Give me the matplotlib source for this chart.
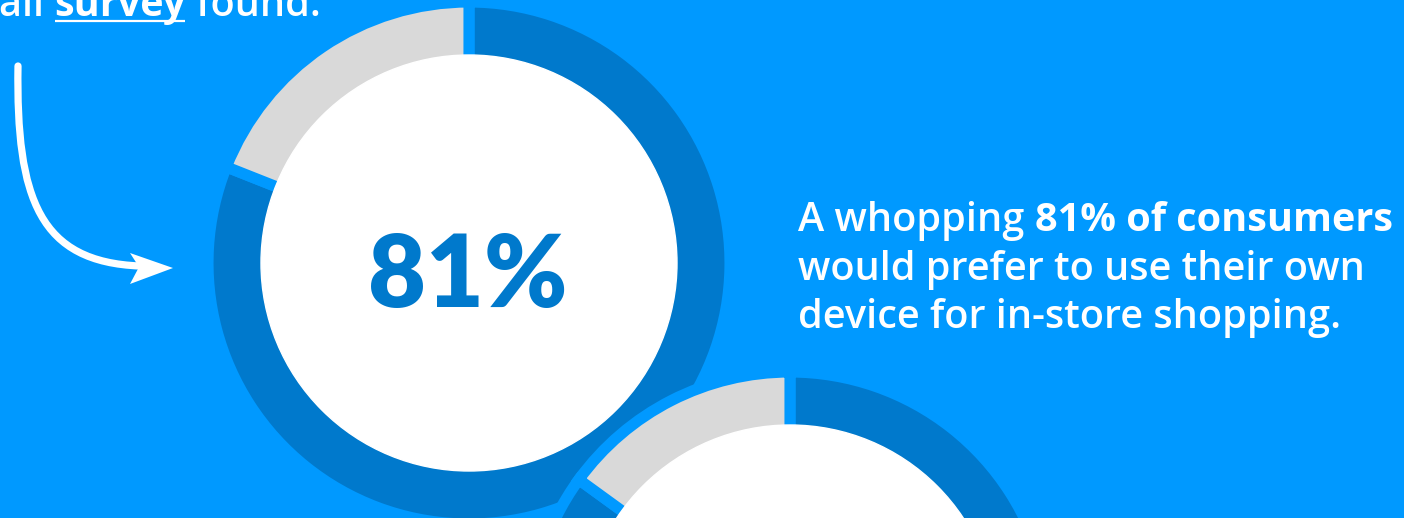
import matplotlib.pyplot as plt
from matplotlib.patches import Circle, Polygon, PathPatch
from matplotlib.path import Path

W, H = 1404, 518
BG = '#0099ff'
DARK = '#0079cc'
GRAY = '#d9d9d9'
FONT = 'Open Sans'

# shares of consumers in each ring (prefer own device / rest)
ring_labels = ['Own device', 'Other']
ring_main = [81, 19]
ring_next = [85, 15]
headline = '81%'

fig = plt.figure(figsize=(W / 100, H / 100), dpi=100)
fig.patch.set_facecolor(BG)
ax = fig.add_axes([0, 0, 1, 1])
ax.set_facecolor(BG)


def donut(values, cx, cy, z):
    # pixel coords, y measured from the top
    wedges, _ = ax.pie(values, labels=None, colors=[DARK, GRAY], startangle=90,
                       counterclock=False, center=(cx, H - cy), radius=261,
                       wedgeprops=dict(edgecolor=BG, linewidth=8))
    for w in wedges:
        w.set_zorder(z)
    ax.add_patch(Circle((cx, H - cy), 208, color='white', zorder=z + 0.5))


donut(ring_main, 469, 263, 2)
donut(ring_next, 790, 633, 4)

ax.text(468, H - 307, headline, fontsize=72, fontweight='heavy', family='Lato',
        color=DARK, ha='center', va='baseline', zorder=3)

renderer = fig.canvas.get_renderer()


def run(x, y, parts, size=28.5):
    spans = []
    for s, weight in parts:
        t = ax.text(x, H - y, s, fontsize=size, fontweight=weight, family=FONT,
                    color='white', va='baseline', zorder=6)
        bb = t.get_window_extent(renderer)
        spans.append((x, x + bb.width))
        x += bb.width
    return spans


run(798, 231, [('A whopping ', 'semibold'), ('81% of consumers', 'bold')])
run(798, 280, [('would prefer to use their own', 'semibold')])
run(798, 328, [('device for in-store shopping.', 'semibold')])

spans = run(-1, 16, [('all ', 'semibold'), ('survey', 'bold'), (' found:', 'semibold')])
x0, x1 = spans[1]
ax.plot([x0 + 1, x1 - 1], [H - 21, H - 21], color='white', lw=1.6,
        solid_capstyle='butt', zorder=6)

# curved pointer into the ring
curve = Path([(18, H - 66), (16, H - 200), (40, H - 262), (140, H - 266)],
             [Path.MOVETO, Path.CURVE4, Path.CURVE4, Path.CURVE4])
ax.add_patch(PathPatch(curve, facecolor='none', edgecolor='white', lw=5.2,
                       capstyle='round', zorder=6))
ax.add_patch(Polygon([(173, H - 268), (130, H - 253), (139, H - 267), (130, H - 284)],
                     closed=True, facecolor='white', edgecolor='none', zorder=6))

ax.set_xlim(0, W)
ax.set_ylim(0, H)
ax.set_aspect('equal')
ax.axis('off')

fig.savefig('out.png', dpi=100, facecolor=BG)
